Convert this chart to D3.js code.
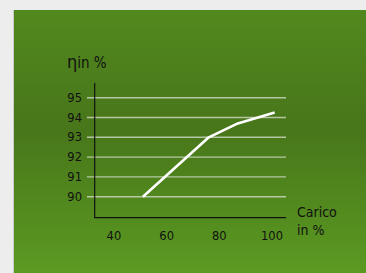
<!DOCTYPE html>
<html>
<head>
<meta charset="utf-8">
<script src="https://cdn.jsdelivr.net/npm/d3@7"></script>
<style>
  html, body { margin: 0; padding: 0; background: #ecedec; }
  svg { display: block; }
</style>
</head>
<body>
<div id="chart"></div>
<script>
"use strict";

// load in %
const loadValues = [51, 76, 87, 101];
// efficiency in %
const etaValues = [90, 93, 93.7, 94.25];
const xTicks = [40, 60, 80, 100];
const yTicks = [90, 91, 92, 93, 94, 95];

const width = 366, height = 273;

const svg = d3.select("#chart").append("svg")
    .attr("width", width)
    .attr("height", height);

// green panel gradient
const grad = svg.append("defs").append("linearGradient")
    .attr("id", "bg").attr("x1", 0).attr("y1", 0).attr("x2", 0).attr("y2", 1);
grad.append("stop").attr("offset", "0%").attr("stop-color", "#52891e");
grad.append("stop").attr("offset", "45%").attr("stop-color", "#48761a");
grad.append("stop").attr("offset", "100%").attr("stop-color", "#5b9a22");

svg.append("rect")
    .attr("x", 13).attr("y", 10)
    .attr("width", width - 13).attr("height", height - 10)
    .attr("fill", "url(#bg)");
svg.append("line")
    .attr("x1", 13.5).attr("x2", 13.5).attr("y1", 10).attr("y2", height)
    .attr("stroke", "#c9cbc8").attr("stroke-width", 1);

const x = d3.scaleLinear().domain([32.7, 105.3]).range([94.7, 286]);
const y = d3.scaleLinear().domain([90, 95]).range([196.7, 97.7]);

const tickFont = "'DejaVu Sans', sans-serif";
const titleFont = "'DejaVu Sans Condensed', 'DejaVu Sans', sans-serif";

// grid lines
svg.append("g").selectAll("line")
    .data(yTicks)
    .join("line")
    .attr("x1", 87).attr("x2", 286)
    .attr("y1", d => y(d)).attr("y2", d => y(d))
    .attr("stroke", "#d8e0d2").attr("stroke-opacity", 0.75)
    .attr("stroke-width", 1.4);

// y tick labels
svg.append("g").selectAll("text")
    .data(yTicks)
    .join("text")
    .attr("x", 82).attr("y", d => y(d))
    .attr("dy", "0.36em")
    .attr("text-anchor", "end")
    .attr("font-family", tickFont).attr("font-size", 11.5)
    .attr("fill", "#111")
    .text(d => d);

// x tick labels
svg.append("g").selectAll("text")
    .data(xTicks)
    .join("text")
    .attr("x", d => x(d)).attr("y", 240)
    .attr("text-anchor", "middle")
    .attr("font-family", tickFont).attr("font-size", 11.5)
    .attr("fill", "#111")
    .text(d => d);

// axes
svg.append("path")
    .attr("d", `M${x.range()[0]},83V${217.7}H${x.range()[1]}`)
    .attr("fill", "none").attr("stroke", "#111").attr("stroke-width", 1.2);

// curve
const line = d3.line()
    .x((d, i) => x(loadValues[i]))
    .y(d => y(d));
svg.append("path")
    .attr("d", line(etaValues))
    .attr("fill", "none")
    .attr("stroke", "#fff")
    .attr("stroke-width", 2.6)
    .attr("stroke-linejoin", "round");

// titles
const yTitle = svg.append("text")
    .attr("x", 67).attr("y", 68)
    .attr("font-family", titleFont).attr("font-size", 15)
    .attr("fill", "#111");
yTitle.append("tspan").attr("font-size", 18).text("η");
yTitle.append("tspan").text("in %");

svg.append("text")
    .attr("x", 297).attr("y", 217)
    .attr("font-family", titleFont).attr("font-size", 14)
    .attr("fill", "#111")
    .text("Carico");
svg.append("text")
    .attr("x", 297).attr("y", 235)
    .attr("font-family", titleFont).attr("font-size", 14)
    .attr("fill", "#111")
    .text("in %");
</script>
</body>
</html>
